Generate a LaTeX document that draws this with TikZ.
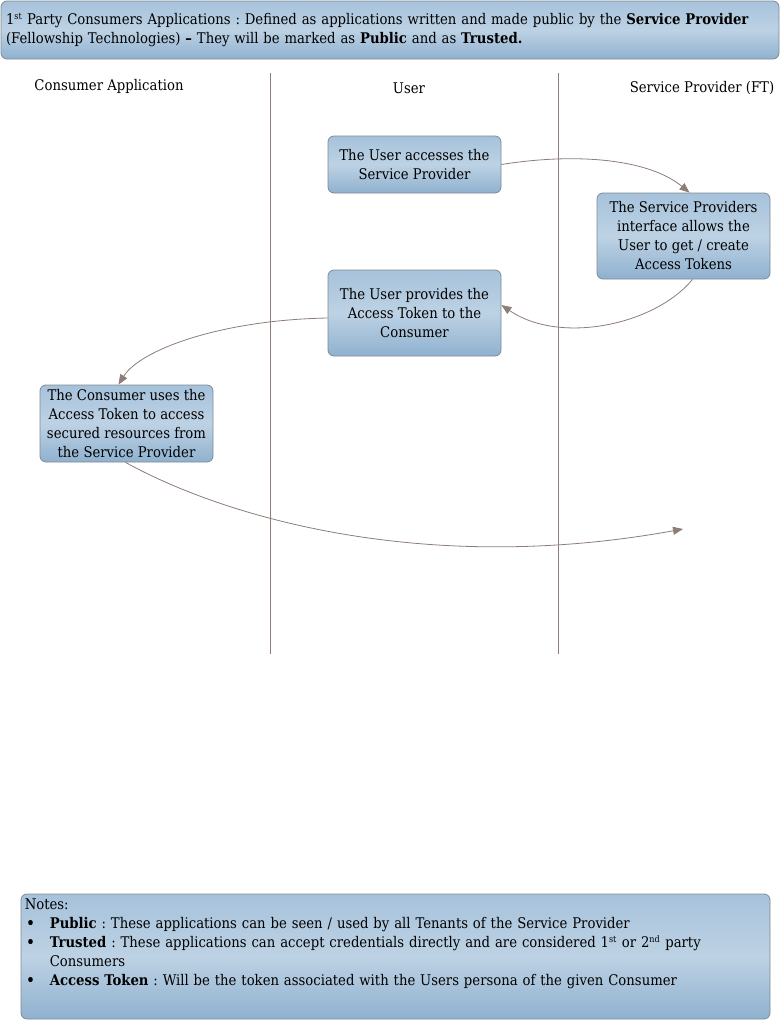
\documentclass[tikz,border=0pt]{standalone}
\usepackage{fontspec}
\setmainfont{DejaVu Serif Condensed}
\usetikzlibrary{positioning}
\usetikzlibrary{calc}
\usetikzlibrary{arrows.meta}

\definecolor{boxtop}{HTML}{A6C2DB}
\definecolor{boxmid}{HTML}{BDD2E4}
\definecolor{boxbot}{HTML}{8FB1CF}
\definecolor{bordo}{HTML}{7F8A94}
\definecolor{freccia}{HTML}{8C7D79}

\newcommand{\apice}[1]{\textsuperscript{\fontsize{9}{9}\selectfont #1}}

\tikzset{
  testo/.style={font=\fontsize{14.7}{19}\selectfont\frenchspacing},
  passo/.style={testo, draw=bordo, line width=0.8pt, rounded corners=6pt,
    top color=boxtop, bottom color=boxbot, middle color=boxmid,
    minimum width=173pt, align=center, inner sep=0pt},
  flusso/.style={draw=freccia, line width=0.8pt, -{Triangle[length=10pt,width=8pt]}},
  corsia/.style={draw=freccia, line width=0.7pt},
}

\begin{document}
\begin{tikzpicture}[x=1pt, y=-1pt]
  \useasboundingbox (0,0) rectangle (780,1020);

  % Intestazione
  \node[passo, minimum width=778pt, minimum height=58pt, text width=768pt, align=left]
    (titolo) at (390,30) {1\apice{st} Party Consumers Applications : Defined as applications written and made public by the \textbf{Service Provider}\\
    (Fellowship Technologies) \textbf{--} They will be marked as \textbf{Public} and as \textbf{Trusted.}};

  % Colonne
  \node[testo] (colcons) at (109,86) {Consumer Application};
  \node[testo] (coluser) at (409,88) {User};
  \node[testo] (colsp) at (702,88) {Service Provider (FT)};
  \coordinate (l1a) at (270,73);
  \coordinate (l1b) at (270,654);
  \coordinate (l2a) at (558,73);
  \coordinate (l2b) at (558,654);
  \draw[corsia] (l1a) -- (l1b);
  \draw[corsia] (l2a) -- (l2b);

  % Passi
  \node[passo, minimum height=57pt] (accesso) at (414.5,164.5) {The User accesses the\\ Service Provider};
  \node[passo, minimum height=86pt] (token) at (683.5,236) {The Service Providers\\ interface allows the\\ User to get / create\\ Access Tokens};
  \node[passo, minimum height=86pt] (fornisce) at (414.5,313) {The User provides the\\ Access Token to the\\ Consumer};
  \node[passo, minimum height=77pt] (usa) at (126.5,423.5) {The Consumer uses the\\ Access Token to access\\ secured resources from\\ the Service Provider};
  \coordinate (fine) at (683,529);

  % Frecce
  \draw[flusso] (accesso.east) .. controls (580,152) and (650,160) .. ([xshift=6pt]token.north);
  \draw[flusso] ([xshift=9pt]token.south) .. controls (655,325) and (560,345) .. ([yshift=8pt]fornisce.east);
  \draw[flusso] ([yshift=-5pt]fornisce.west) .. controls (220,320) and (140,350) .. ([xshift=-8pt]usa.north);
  \draw[flusso] ([xshift=-1pt]usa.south) .. controls (230,520) and (430,575) .. (fine);

  % Note
  \node[passo, minimum width=749pt, minimum height=125pt] (note) at (395.5,956.5) {};
  \node[testo, anchor=north west, text width=740pt, align=left, inner sep=0pt]
    (notetesto) at ([xshift=4pt,yshift=-5pt]note.north west) {Notes:\\[-2pt]
    \begin{list}{\textbf{\textbullet}}{\setlength\leftmargin{25pt}\setlength\labelwidth{10pt}\setlength\labelsep{15pt}%
      \setlength\itemsep{0pt}\setlength\parsep{0pt}\setlength\topsep{0pt}\setlength\partopsep{0pt}}
    \item \textbf{Public} : These applications can be seen / used by all Tenants of the Service Provider
    \item \textbf{Trusted} : These applications can accept credentials directly and are considered 1\apice{st} or 2\apice{nd} party\\ Consumers
    \item \textbf{Access Token} : Will be the token associated with the Users persona of the given Consumer
    \end{list}};
\end{tikzpicture}
\end{document}
